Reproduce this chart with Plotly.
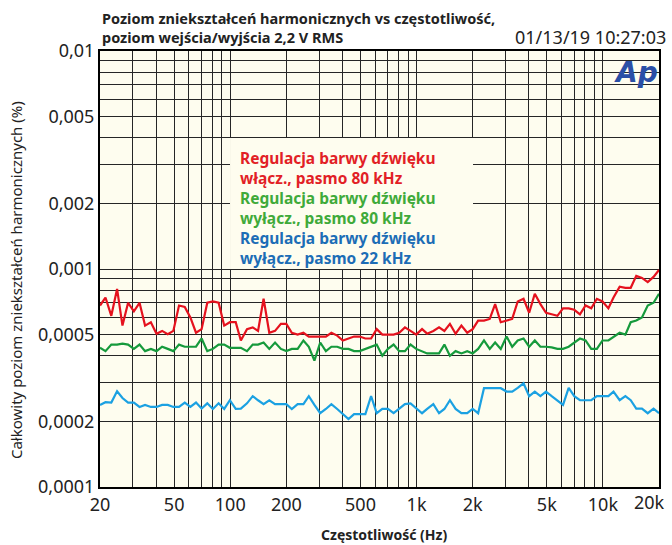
import plotly.graph_objects as go

# sweep frequencies (Hz), 100 log-spaced points 20 Hz .. 20 kHz
FREQ = [
    20, 21.4, 23.0, 24.7, 26.4, 28.3, 30.4, 32.6, 34.9, 37.5,
    40.2, 43.1, 46.2, 49.5, 53.1, 57.0, 61.1, 65.5, 70.2, 75.3,
    80.7, 86.6, 92.8, 99.5, 107, 114, 123, 132, 141, 151,
    162, 174, 187, 200, 214, 230, 247, 264, 283, 304,
    326, 349, 375, 402, 431, 462, 495, 531, 570, 611,
    655, 702, 753, 807, 866, 928, 995, 1070, 1140, 1230,
    1320, 1410, 1510, 1620, 1740, 1870, 2000, 2140, 2300, 2470,
    2640, 2830, 3040, 3260, 3490, 3750, 4020, 4310, 4620, 4950,
    5310, 5700, 6110, 6550, 7020, 7530, 8070, 8660, 9280, 9950,
    10700, 11400, 12300, 13200, 14100, 15100, 16200, 17400, 18700, 20000,
]

# THD+N (%) -- tone control on, 80 kHz bandwidth
THD_ON_80K = [
    0.00068, 0.00074, 0.00061, 0.00081, 0.00055, 0.00070, 0.00064, 0.00070, 0.00055, 0.00057,
    0.000505, 0.00052, 0.000502, 0.00052, 0.00068, 0.00067, 0.00060, 0.00051, 0.00053, 0.00070,
    0.00071, 0.00070, 0.00055, 0.00057, 0.00057, 0.00047, 0.00053, 0.00054, 0.00052, 0.00073,
    0.00051, 0.00052, 0.00056, 0.00056, 0.00051, 0.00050, 0.00051, 0.00049, 0.00049, 0.00049,
    0.00049, 0.00051, 0.000495, 0.00047, 0.00048, 0.00049, 0.00049, 0.00048, 0.00048, 0.00053,
    0.00050, 0.00050, 0.00050, 0.00051, 0.00054, 0.00052, 0.00050, 0.00053, 0.000505, 0.00052,
    0.00054, 0.00052, 0.00056, 0.000505, 0.00055, 0.00051, 0.00053, 0.00058, 0.00058, 0.00059,
    0.00069, 0.00057, 0.00058, 0.00059, 0.00071, 0.00073, 0.00063, 0.00077, 0.00069, 0.00063,
    0.00062, 0.00061, 0.00066, 0.00066, 0.00065, 0.00062, 0.00068, 0.00066, 0.00073, 0.00071,
    0.00066, 0.00074, 0.00083, 0.00082, 0.00082, 0.00093, 0.00091, 0.00087, 0.00092, 0.00099,
]

# tone control off, 80 kHz bandwidth
THD_OFF_80K = [
    0.000435, 0.00042, 0.00045, 0.00045, 0.000455, 0.00045, 0.00043, 0.00045, 0.00042, 0.00043,
    0.00042, 0.00044, 0.00043, 0.00042, 0.00045, 0.00044, 0.00044, 0.00044, 0.00048, 0.00042,
    0.00043, 0.00045, 0.00045, 0.000435, 0.000435, 0.000435, 0.00042, 0.00045, 0.00045, 0.00046,
    0.00043, 0.00046, 0.00043, 0.00042, 0.00043, 0.00043, 0.00047, 0.00044, 0.00038, 0.00046,
    0.00042, 0.00044, 0.00044, 0.00043, 0.00043, 0.00042, 0.00042, 0.00043, 0.00044, 0.00045,
    0.00040, 0.00043, 0.00045, 0.00042, 0.00042, 0.00045, 0.00043, 0.00042, 0.00041, 0.00041,
    0.00041, 0.00045, 0.00040, 0.00042, 0.00041, 0.00042, 0.00041, 0.00043, 0.00047, 0.00043,
    0.00046, 0.00043, 0.00049, 0.00044, 0.00047, 0.00048, 0.00044, 0.00047, 0.00044, 0.00044,
    0.000437, 0.00043, 0.00043, 0.00044, 0.00046, 0.00048, 0.00047, 0.00043, 0.00043, 0.00047,
    0.00047, 0.00049, 0.00051, 0.00050, 0.00057, 0.00058, 0.00060, 0.00068, 0.00070, 0.00077,
]

# tone control off, 22 kHz bandwidth
THD_OFF_22K = [
    0.000238, 0.000245, 0.000244, 0.000275, 0.000256, 0.000244, 0.000244, 0.000233, 0.000238, 0.000233,
    0.000233, 0.000238, 0.000238, 0.000233, 0.000233, 0.000244, 0.000233, 0.000244, 0.000229, 0.000242,
    0.000228, 0.000242, 0.000228, 0.000250, 0.000228, 0.000229, 0.000242, 0.000261, 0.000250, 0.000240,
    0.000250, 0.000240, 0.000240, 0.000240, 0.000228, 0.000240, 0.000240, 0.000261, 0.000238, 0.000218,
    0.000228, 0.000240, 0.000228, 0.000216, 0.000205, 0.000216, 0.000216, 0.000216, 0.000261, 0.000218,
    0.000228, 0.000228, 0.000218, 0.000228, 0.000240, 0.000242, 0.000231, 0.000218, 0.000228, 0.000240,
    0.000218, 0.000228, 0.000250, 0.000228, 0.000218, 0.000218, 0.000228, 0.000218, 0.000284, 0.000284,
    0.000284, 0.000284, 0.000274, 0.000274, 0.000285, 0.000299, 0.000261, 0.000274, 0.000261, 0.000274,
    0.000261, 0.000250, 0.000238, 0.000285, 0.000261, 0.000250, 0.000250, 0.000250, 0.000261, 0.000261,
    0.000261, 0.000274, 0.000250, 0.000261, 0.000250, 0.000229, 0.000229, 0.000218, 0.000229, 0.000218,
]

LEGEND_LINES = [
    ("Regulacja barwy dźwięku", "włącz., pasmo 80 kHz"),
    ("Regulacja barwy dźwięku", "wyłącz., pasmo 80 kHz"),
    ("Regulacja barwy dźwięku", "wyłącz., pasmo 22 kHz"),
]

X_GRID = [20, 30, 40, 50, 60, 70, 80, 90,
          100, 200, 300, 400, 500, 600, 700, 800, 900,
          1000, 2000, 3000, 4000, 5000, 6000, 7000, 8000, 9000,
          10000, 20000]
# the 20k label sits against the page edge, so it is drawn as a note below
X_LABELS = {20: "20", 50: "50", 100: "100", 200: "200", 500: "500",
            1000: "1k", 2000: "2k", 5000: "5k", 10000: "10k"}
X_LAST_LABEL = "20k"

Y_GRID = [0.0001, 0.0002, 0.0003, 0.0004, 0.0005, 0.0006, 0.0007, 0.0008, 0.0009,
          0.001, 0.002, 0.003, 0.004, 0.005, 0.006, 0.007, 0.008, 0.009, 0.01]
Y_LABELS = {0.0001: "0,0001", 0.0002: "0,0002", 0.0005: "0,0005", 0.001: "0,001",
            0.002: "0,002", 0.005: "0,005", 0.01: "0,01"}

TITLE_1 = "Poziom zniekształceń harmonicznych vs częstotliwość,"
TITLE_2 = "poziom wejścia/wyjścia 2,2 V RMS"
STAMP = "01/13/19 10:27:03"
X_TITLE = "Częstotliwość (Hz)"
Y_TITLE = "Całkowity poziom zniekształceń harmonicznych (%)"

RED, GREEN, BLUE = "#E5121E", "#169A3C", "#1BA1E2"
TEXT_COLORS = ["#E21F26", "#3FAA3A", "#1C6DB6"]
INK = "#222222"
PAPER = "#FEFDEF"
FONT = "Noto Sans, DejaVu Sans, sans-serif"

fig = go.Figure()
for ys, col in [(THD_ON_80K, RED), (THD_OFF_80K, GREEN), (THD_OFF_22K, BLUE)]:
    fig.add_trace(go.Scatter(x=FREQ, y=ys, mode="lines",
                             line=dict(color=col, width=2.2), showlegend=False))

fig.update_layout(
    width=672, height=545,
    margin=dict(l=100, r=13, t=51, b=58),
    paper_bgcolor="white",
    plot_bgcolor=PAPER,
    font=dict(family=FONT, color=INK, size=18),
    showlegend=False,
)
fig.update_xaxes(
    type="log", range=[1.301025, 4.301035], automargin=False,
    tickvals=X_GRID, ticktext=[X_LABELS.get(v, "") for v in X_GRID],
    showgrid=True, gridcolor="#262626", gridwidth=1.4,
    showline=True, linecolor="black", linewidth=2, mirror=True,
    ticks="", zeroline=False, tickfont=dict(size=18, color=INK),
    ticklabeloverflow="allow",
)
fig.update_yaxes(
    type="log", range=[-4.000005, -1.999995], automargin=False,
    tickvals=Y_GRID, ticktext=[Y_LABELS.get(v, "") for v in Y_GRID],
    showgrid=True, gridcolor="#262626", gridwidth=1.4,
    showline=True, linecolor="black", linewidth=2, mirror=True,
    ticks="", zeroline=False, tickfont=dict(size=18, color=INK),
    ticklabeloverflow="allow",
)

# legend panel masks the grid (100 Hz .. 2 kHz, 0.001 .. 0.004 %)
fig.add_shape(type="rect", xref="paper", yref="paper", layer="above",
              x0=0.2326, x1=0.6673, y0=0.4999, y1=0.8005,
              fillcolor=PAPER, line_width=0)

ys = [0.7546, 0.7087, 0.6628, 0.6170, 0.5711, 0.5252]
for i, (a, b) in enumerate(LEGEND_LINES):
    for j, txt in enumerate((a, b)):
        fig.add_annotation(xref="paper", yref="paper", x=0.247, y=ys[2 * i + j],
                           xanchor="left", yanchor="middle", showarrow=False,
                           text=f"<b>{txt}</b>",
                           font=dict(size=15.5, color=TEXT_COLORS[i]))

fig.add_annotation(xref="paper", yref="paper", x=1.0145, y=-0.0355,
                   xanchor="right", yanchor="middle", showarrow=False,
                   text=X_LAST_LABEL, font=dict(size=18, color=INK))

fig.add_annotation(xref="paper", yref="paper", x=0, y=1.0757, xanchor="left",
                   yanchor="middle", showarrow=False, text=f"<b>{TITLE_1}</b>",
                   font=dict(size=14.5, color=INK))
fig.add_annotation(xref="paper", yref="paper", x=0, y=1.0321, xanchor="left",
                   yanchor="middle", showarrow=False, text=f"<b>{TITLE_2}</b>",
                   font=dict(size=14.5, color=INK))
fig.add_annotation(xref="paper", yref="paper", x=1.016, y=1.0321, xanchor="right",
                   yanchor="middle", showarrow=False, text=STAMP,
                   font=dict(size=18, color=INK))
fig.add_annotation(xref="paper", yref="paper", x=0.508, y=-0.109,
                   xanchor="center", yanchor="middle", showarrow=False,
                   text=f"<b>{X_TITLE}</b>", font=dict(size=14, color=INK))
fig.add_annotation(xref="paper", yref="paper", x=-0.150, y=0.475,
                   xanchor="center", yanchor="middle", showarrow=False,
                   textangle=-90, text=Y_TITLE, font=dict(size=15, color=INK))
# Ap logo
fig.add_annotation(xref="paper", yref="paper", x=0.958, y=0.950,
                   xanchor="center", yanchor="middle", showarrow=False,
                   text="<b><i>Ap</i></b>",
                   font=dict(size=28, color="#2A4FA6", family="DejaVu Sans"))

fig.write_html("out.html", config={"displayModeBar": False},
               post_script="document.body.style.margin='0';")
